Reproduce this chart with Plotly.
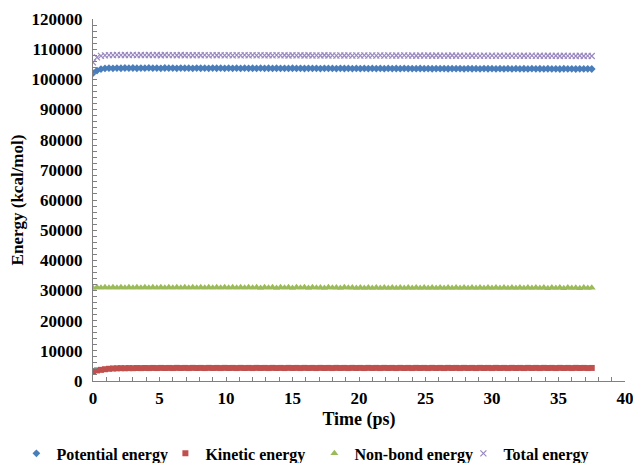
import plotly.graph_objects as go

time_ps = [
    0.0, 0.3, 0.6, 0.9, 1.2, 1.5, 1.8, 2.1, 2.4, 2.7,
    3.0, 3.3, 3.6, 3.9, 4.2, 4.5, 4.8, 5.1, 5.4, 5.7,
    6.0, 6.3, 6.6, 6.9, 7.2, 7.5, 7.8, 8.1, 8.4, 8.7,
    9.0, 9.3, 9.6, 9.9, 10.2, 10.5, 10.8, 11.1, 11.4, 11.7,
    12.0, 12.3, 12.6, 12.9, 13.2, 13.5, 13.8, 14.1, 14.4, 14.7,
    15.0, 15.3, 15.6, 15.9, 16.2, 16.5, 16.8, 17.1, 17.4, 17.7,
    18.0, 18.3, 18.6, 18.9, 19.2, 19.5, 19.8, 20.1, 20.4, 20.7,
    21.0, 21.3, 21.6, 21.9, 22.2, 22.5, 22.8, 23.1, 23.4, 23.7,
    24.0, 24.3, 24.6, 24.9, 25.2, 25.5, 25.8, 26.1, 26.4, 26.7,
    27.0, 27.3, 27.6, 27.9, 28.2, 28.5, 28.8, 29.1, 29.4, 29.7,
    30.0, 30.3, 30.6, 30.9, 31.2, 31.5, 31.8, 32.1, 32.4, 32.7,
    33.0, 33.3, 33.6, 33.9, 34.2, 34.5, 34.8, 35.1, 35.4, 35.7,
    36.0, 36.3, 36.6, 36.9, 37.2, 37.5,
]

potential_energy = [
    102050, 102900, 103400, 103620, 103700, 103650, 103740, 103680, 103760, 103700,
    103750, 103680, 103740, 103700, 103770, 103690, 103730, 103660, 103750, 103700,
    103720, 103660, 103740, 103690, 103710, 103650, 103730, 103680, 103700, 103640,
    103720, 103670, 103700, 103640, 103710, 103660, 103690, 103630, 103700, 103650,
    103680, 103620, 103690, 103640, 103670, 103610, 103680, 103630, 103660, 103600,
    103670, 103620, 103650, 103590, 103660, 103610, 103640, 103580, 103650, 103600,
    103630, 103570, 103640, 103590, 103620, 103560, 103630, 103580, 103610, 103550,
    103620, 103570, 103600, 103540, 103610, 103560, 103590, 103530, 103600, 103550,
    103580, 103520, 103590, 103540, 103570, 103510, 103580, 103530, 103560, 103500,
    103570, 103520, 103550, 103490, 103560, 103510, 103540, 103480, 103550, 103500,
    103530, 103470, 103540, 103490, 103520, 103460, 103530, 103480, 103510, 103450,
    103520, 103470, 103500, 103440, 103510, 103460, 103490, 103430, 103500, 103450,
    103480, 103420, 103490, 103440, 103470, 103430,
]

kinetic_energy = [
    3300, 3500, 3700, 3900, 4050, 4150, 4200, 4250, 4230, 4280,
    4250, 4300, 4270, 4320, 4280, 4330, 4290, 4340, 4300, 4330,
    4290, 4350, 4300, 4340, 4290, 4350, 4310, 4340, 4290, 4350,
    4300, 4340, 4290, 4350, 4310, 4340, 4290, 4350, 4300, 4340,
    4290, 4350, 4310, 4340, 4290, 4350, 4300, 4340, 4290, 4350,
    4310, 4340, 4290, 4350, 4300, 4340, 4290, 4350, 4310, 4340,
    4290, 4350, 4300, 4340, 4290, 4350, 4310, 4340, 4290, 4350,
    4300, 4340, 4290, 4350, 4310, 4340, 4290, 4350, 4300, 4340,
    4290, 4350, 4310, 4340, 4290, 4350, 4300, 4340, 4290, 4350,
    4310, 4340, 4290, 4350, 4300, 4340, 4290, 4350, 4310, 4340,
    4290, 4350, 4300, 4340, 4290, 4350, 4310, 4340, 4290, 4350,
    4300, 4340, 4290, 4350, 4310, 4340, 4290, 4350, 4300, 4340,
    4290, 4350, 4310, 4340, 4290, 4330,
]

nonbond_energy = [
    30800, 31050, 30900, 31100, 30950, 31100, 30900, 31100, 30950, 31080,
    30900, 31100, 30950, 31080, 30900, 31100, 30940, 31080, 30900, 31090,
    30930, 31080, 30900, 31090, 30930, 31070, 30890, 31080, 30920, 31070,
    30890, 31080, 30920, 31060, 30880, 31070, 30910, 31060, 30880, 31070,
    30910, 31050, 30870, 31060, 30900, 31050, 30870, 31060, 30900, 31040,
    30860, 31050, 30890, 31040, 30860, 31050, 30890, 31030, 30850, 31040,
    30880, 31030, 30850, 31040, 30880, 31020, 30840, 31030, 30870, 31020,
    30840, 31030, 30870, 31010, 30830, 31020, 30860, 31010, 30830, 31020,
    30860, 31000, 30820, 31010, 30850, 31000, 30820, 31010, 30850, 30990,
    30810, 31000, 30840, 30990, 30810, 31000, 30840, 30980, 30800, 30990,
    30830, 30980, 30800, 30990, 30830, 30970, 30790, 30980, 30820, 30970,
    30790, 30980, 30820, 30960, 30780, 30970, 30810, 30960, 30780, 30970,
    30810, 30950, 30770, 30960, 30800, 30950,
]

total_energy = [
    105600, 107300, 107800, 107950, 108050, 108000, 108100, 108030, 108080, 108010,
    108090, 108020, 108070, 108000, 108080, 108010, 108060, 107990, 108070, 108000,
    108050, 107980, 108060, 107990, 108040, 107970, 108050, 107980, 108030, 107960,
    108040, 107970, 108020, 107950, 108030, 107960, 108010, 107940, 108020, 107950,
    108000, 107930, 108010, 107940, 107990, 107920, 108000, 107930, 107980, 107910,
    107990, 107920, 107970, 107900, 107980, 107910, 107960, 107890, 107970, 107900,
    107950, 107880, 107960, 107890, 107940, 107870, 107950, 107880, 107930, 107860,
    107940, 107870, 107920, 107850, 107930, 107860, 107910, 107840, 107920, 107850,
    107900, 107830, 107910, 107840, 107890, 107820, 107900, 107830, 107880, 107810,
    107890, 107820, 107870, 107800, 107880, 107810, 107860, 107790, 107870, 107800,
    107850, 107780, 107860, 107790, 107840, 107770, 107850, 107780, 107830, 107760,
    107840, 107770, 107820, 107750, 107830, 107760, 107810, 107740, 107820, 107750,
    107800, 107730, 107810, 107740, 107790, 107730,
]

series_names = ["Potential energy", "Kinetic energy", "Non-bond energy", "Total energy"]

FONT = "Liberation Serif"

fig = go.Figure()
fig.add_trace(go.Scatter(
    x=time_ps, y=potential_energy, mode="markers", name=series_names[0],
    marker=dict(symbol="diamond", size=6, color="#4A7EBB", line=dict(width=0)),
))
fig.add_trace(go.Scatter(
    x=time_ps, y=kinetic_energy, mode="markers", name=series_names[1],
    marker=dict(symbol="square", size=6, color="#C0504D", line=dict(width=0)),
))
fig.add_trace(go.Scatter(
    x=time_ps, y=nonbond_energy, mode="markers", name=series_names[2],
    marker=dict(symbol="triangle-up", size=7, color="#9BBB59", line=dict(width=0)),
))
fig.add_trace(go.Scatter(
    x=time_ps, y=total_energy, mode="markers", name=series_names[3],
    marker=dict(symbol="x-thin-open", size=6, color="#9A88C0",
                line=dict(width=1.2, color="#9A88C0")),
))

axis_common = dict(
    showgrid=False, zeroline=False, showline=True, linecolor="#808080", linewidth=1,
    ticks="inside", tickcolor="#808080", ticklen=4, tickwidth=1,
    tickfont=dict(family=FONT, size=17, color="#000000", weight="bold"),
    ticklabeloverflow="allow",
)

fig.update_xaxes(
    range=[0, 40], tick0=0, dtick=5,
    minor=dict(ticks="inside", dtick=1, ticklen=4, tickcolor="#808080"),
    ticklabelstandoff=2,
    title=dict(text="Time (ps)", font=dict(family=FONT, size=18, color="#000000", weight="bold"),
               standoff=4),
    **axis_common,
)
fig.update_yaxes(
    range=[0, 120000], tick0=0, dtick=10000, tickformat="d",
    minor=dict(ticks="inside", dtick=2000, ticklen=4, tickcolor="#808080"),
    ticklabelstandoff=6,
    title=dict(text="Energy (kcal/mol)", font=dict(family=FONT, size=17, color="#000000", weight="bold"),
               standoff=3),
    **axis_common,
)

fig.update_layout(
    width=633, height=463,
    margin=dict(l=93, r=8, t=19, b=82, autoexpand=False),
    paper_bgcolor="white", plot_bgcolor="white",
    font=dict(family=FONT),
    showlegend=True,
    legend=dict(
        orientation="h", xref="paper", yref="paper",
        x=-0.144, xanchor="left", y=-0.2, yanchor="middle",
        font=dict(family=FONT, size=16, color="#000000", weight="bold"),
        itemwidth=30, tracegroupgap=0,
        entrywidth=104, entrywidthmode="pixels",
    ),
)

fig.write_html("out.html")
